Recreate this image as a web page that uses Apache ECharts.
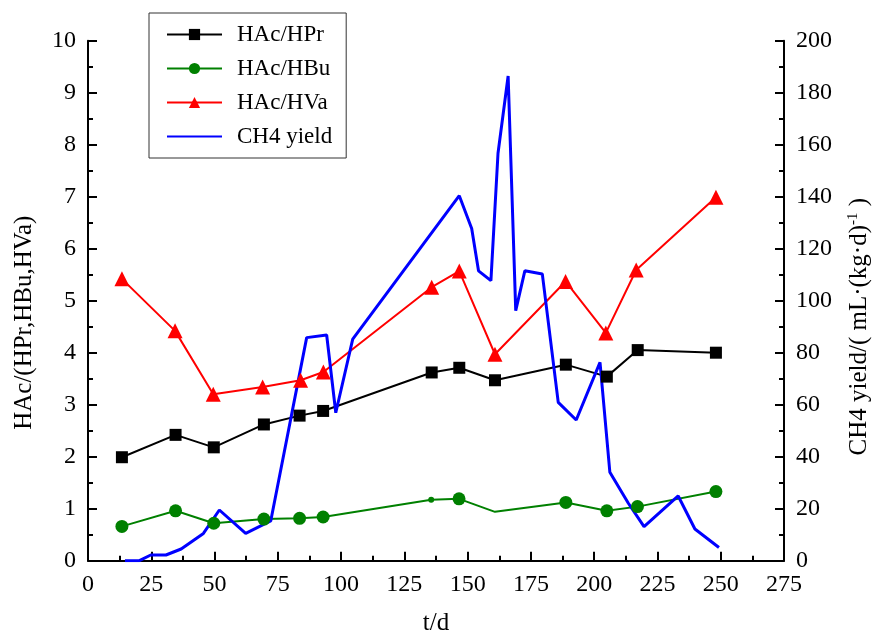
<!DOCTYPE html>
<html><head><meta charset="utf-8">
<script src="https://cdn.jsdelivr.net/npm/echarts@6/dist/echarts.min.js"></script>
<style>html,body{margin:0;padding:0;background:#fff}#c{width:875px;height:637px}</style>
</head><body><div id="c"></div>
<script>
const hprT = [13.4, 34.6, 49.7, 69.5, 83.6, 92.9, 135.8, 146.7, 160.8, 188.8, 205, 217.2, 248.1];
const hprV = [1.99, 2.42, 2.18, 2.62, 2.79, 2.88, 3.62, 3.71, 3.47, 3.77, 3.54, 4.05, 4.0];
const hbuT = [13.4, 34.6, 49.7, 69.5, 83.6, 92.9, 135.6, 146.6, 160.8, 188.8, 205, 217.1, 248.1];
const hbuV = [0.66, 0.96, 0.72, 0.80, 0.815, 0.84, 1.17, 1.19, 0.94, 1.12, 0.96, 1.04, 1.33];
const hvaT = [13.4, 34.4, 49.5, 69.0, 84.0, 93.0, 135.8, 146.7, 160.8, 188.7, 204.6, 216.6, 248.1];
const hvaV = [5.42, 4.42, 3.20, 3.34, 3.47, 3.63, 5.26, 5.57, 3.97, 5.37, 4.38, 5.59, 6.99];
const ch4T = [14.6, 20.3, 24.8, 30.8, 36.8, 45.6, 51.9, 62.3, 72.2, 86.4, 94.3, 97.9, 104.6, 146.7, 151.6, 154.3, 159.2, 162.0, 166.0, 169.0, 172.6, 179.5, 185.8, 192.9, 202.3, 206.2, 213.5, 219.7, 233.2, 239.8, 249.3];
const ch4V = [0, 0, 2.2, 2.2, 4.5, 10.5, 19.5, 10.5, 15.3, 85.8, 86.8, 56.9, 85.2, 140.4, 127.8, 111.5, 107.7, 156.7, 186.4, 96.2, 111.5, 110.3, 60.9, 54.1, 76.3, 34.0, 22.1, 13.1, 24.9, 12.2, 5.1];
const xTicks = [0, 275, 25];
const yLeftTicks = [0, 10, 1];
const yRightTicks = [0, 200, 20];

const FONT = '"Liberation Serif", "Times New Roman", serif';
const pair = (t, v) => t.map((x, i) => [x, v[i]]);
const hbuData = pair(hbuT, hbuV).map((p, i) => {
  if (i === 6) return { value: p, symbolSize: 6 };
  if (i === 8) return { value: p, symbol: 'none' };
  return p;
});

const axisCommon = {
  axisLine: { show: true, lineStyle: { color: '#000', width: 2 } },
  axisTick: { show: true, inside: true, length: 9, lineStyle: { color: '#000', width: 2 } },
  minorTick: { show: true, splitNumber: 2, length: 5, lineStyle: { color: '#000', width: 2 } },
  splitLine: { show: false },
  axisLabel: { color: '#000', fontFamily: FONT, fontSize: 24, margin: 12 },
  nameTextStyle: { color: '#000', fontFamily: FONT, fontSize: 25 }
};

const chart = echarts.init(document.getElementById('c'), null, { renderer: 'canvas' });
chart.setOption({
  animation: false,
  backgroundColor: '#fff',
  grid: { left: 88, right: 91, top: 40.7, bottom: 76.3, containLabel: false, outerBoundsMode: 'none' },
  legend: {
    orient: 'vertical', left: 149, top: 13,
    padding: [10, 14, 10, 17],
    borderColor: '#333', borderWidth: 1,
    itemWidth: 55, itemHeight: 14, itemGap: 11,
    textStyle: { color: '#000', fontFamily: FONT, fontSize: 23, lineHeight: 20, padding: [0, 0, 0, 10] },
    data: ['HAc/HPr', 'HAc/HBu', 'HAc/HVa', { name: 'CH4 yield', itemStyle: { opacity: 0 } }]
  },
  xAxis: Object.assign({}, axisCommon, {
    type: 'value', min: xTicks[0], max: xTicks[1], interval: xTicks[2],
    name: 't/d', nameLocation: 'middle', nameGap: 50
  }),
  yAxis: [
    Object.assign({}, axisCommon, {
      type: 'value', position: 'left', min: yLeftTicks[0], max: yLeftTicks[1], interval: yLeftTicks[2],
      name: 'HAc/(HPr,HBu,HVa)', nameLocation: 'middle', nameGap: 51, nameRotate: 90,
      nameTextStyle: { color: '#000', fontFamily: FONT, fontSize: 25, padding: [0, 44, 0, 0] }
    }),
    Object.assign({}, axisCommon, {
      type: 'value', position: 'right', min: yRightTicks[0], max: yRightTicks[1], interval: yRightTicks[2],
      name: '{a|CH4 yield/( mL·(kg·d)}{s|-1}{a| )}', nameLocation: 'middle', nameGap: 62, nameRotate: 90,
      nameTextStyle: {
        color: '#000', fontFamily: FONT, fontSize: 25, padding: [0, 52, 0, 0],
        rich: {
          a: { fontFamily: FONT, fontSize: 25, color: '#000' },
          s: { fontFamily: FONT, fontSize: 15, color: '#000', verticalAlign: 'top', padding: [0, 0, 12, 0] }
        }
      }
    })
  ],
  series: [
    {
      name: 'HAc/HPr', type: 'line', yAxisIndex: 0, data: pair(hprT, hprV),
      symbol: 'rect', symbolSize: 12, color: '#000',
      lineStyle: { color: '#000', width: 2 }, itemStyle: { color: '#000' }
    },
    {
      name: 'HAc/HBu', type: 'line', yAxisIndex: 0, data: hbuData,
      symbol: 'circle', symbolSize: 13, color: '#008000',
      lineStyle: { color: '#008000', width: 2 }, itemStyle: { color: '#008000' }
    },
    {
      name: 'HAc/HVa', type: 'line', yAxisIndex: 0, data: pair(hvaT, hvaV),
      symbol: 'triangle', symbolSize: 15, color: '#ff0000',
      lineStyle: { color: '#ff0000', width: 2 }, itemStyle: { color: '#ff0000' }
    },
    {
      name: 'CH4 yield', type: 'line', yAxisIndex: 1, data: pair(ch4T, ch4V),
      symbol: 'none', color: '#0000ff',
      lineStyle: { color: '#0000ff', width: 3 }, itemStyle: { color: '#0000ff' }
    }
  ]
});
</script>
</body></html>
